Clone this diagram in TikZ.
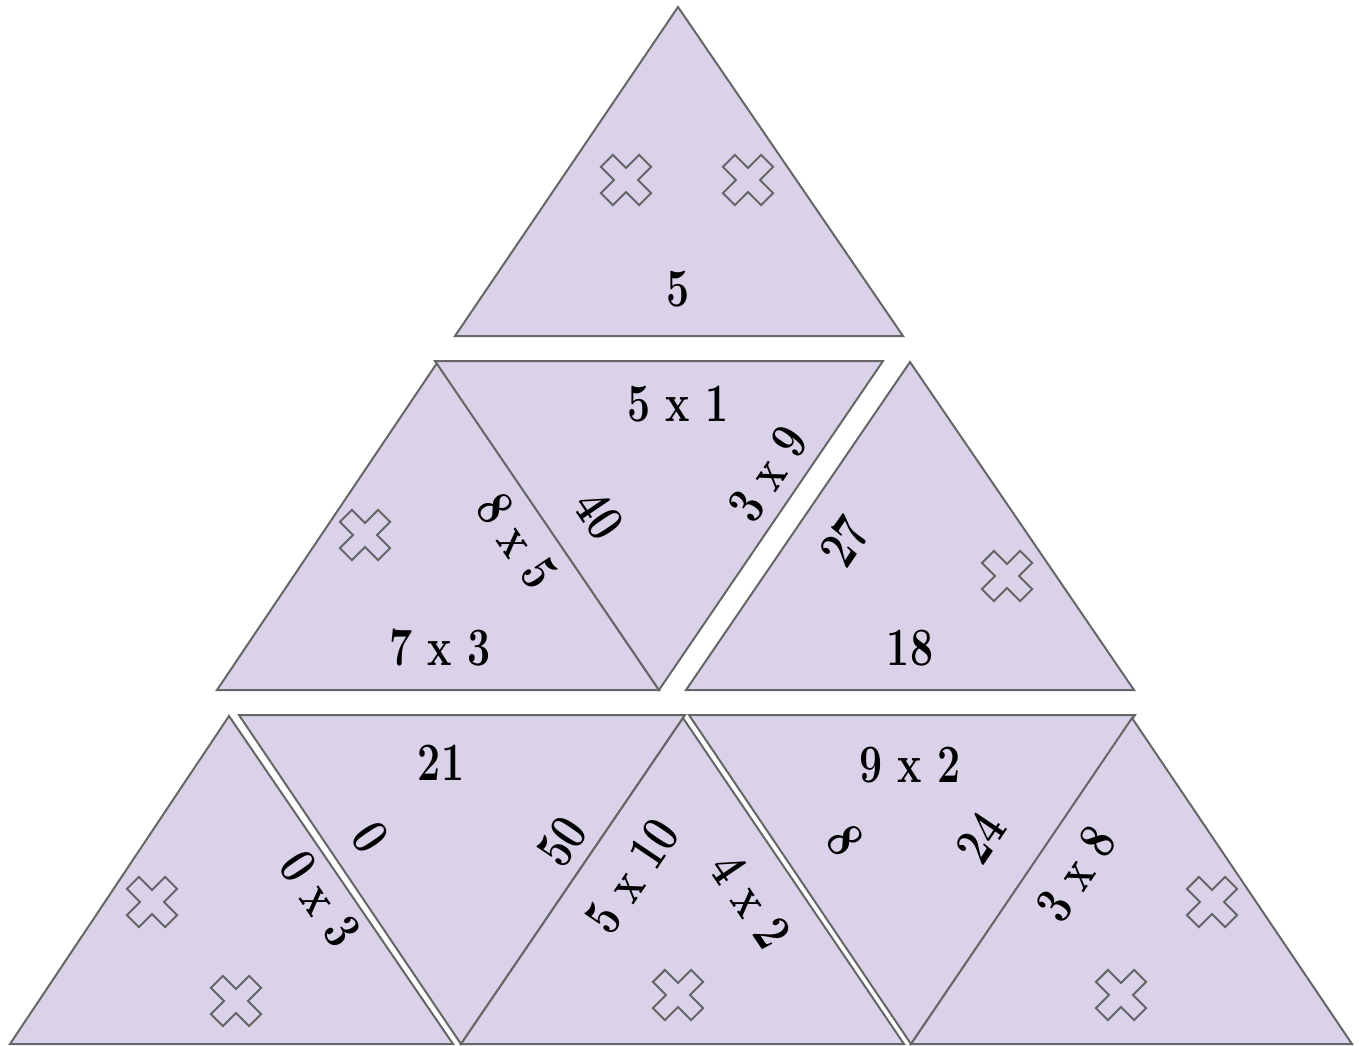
\documentclass[tikz,border=0pt]{standalone}
\usepackage{graphicx}
\definecolor{trifill}{HTML}{D9D2E9}
\definecolor{edgegray}{HTML}{666666}
\newcommand\condtxt[1]{\scalebox{0.76}[1]{#1}}
\tikzset{
  tribox/.style={fill=trifill, draw=edgegray, line width=2pt, line join=miter},
  lbl/.style={font=\fontsize{54}{54}\selectfont\bfseries, inner sep=0pt, text=black},
  crossmark/.pic={
    \draw[draw=edgegray, line width=2pt, rotate=45]
      (-8.5,27) -- (8.5,27) -- (8.5,8.5) -- (27,8.5) -- (27,-8.5) -- (8.5,-8.5)
      -- (8.5,-27) -- (-8.5,-27) -- (-8.5,-8.5) -- (-27,-8.5) -- (-27,8.5)
      -- (-8.5,8.5) -- cycle;
  }
}
\begin{document}
\begin{tikzpicture}[x=1pt,y=-1pt]
\useasboundingbox (0,0) rectangle (1359,1046);
% triangles
\draw[tribox] (678,7) -- (903,336) -- (455,336) -- cycle;       % T1
\draw[tribox] (437,363) -- (659,690) -- (217,690) -- cycle;     % T2
\draw[tribox] (435,361) -- (883,361) -- (659,690) -- cycle;     % T3
\draw[tribox] (910,362) -- (1134,690) -- (686,690) -- cycle;    % T4
\draw[tribox] (229,716) -- (453,1044) -- (10,1044) -- cycle;    % T5
\draw[tribox] (239,715) -- (685,715) -- (461,1044) -- cycle;    % T6
\draw[tribox] (683,718) -- (904,1044) -- (461,1044) -- cycle;   % T7
\draw[tribox] (689,715) -- (1135,715) -- (911,1044) -- cycle;   % T8
\draw[tribox] (1132,718) -- (1352,1044) -- (911,1044) -- cycle; % T9
% crosses
\pic at (626,180) {crossmark};
\pic at (748,180) {crossmark};
\pic at (365,535) {crossmark};
\pic at (1007,576) {crossmark};
\pic at (152,902) {crossmark};
\pic at (236,1001) {crossmark};
\pic at (678,995) {crossmark};
\pic at (1212,902) {crossmark};
\pic at (1121,995) {crossmark};
% labels
\node[lbl] (a1) at (678,289) {\condtxt{5}};
\node[lbl] (b1) at (678,404) {\condtxt{5 x 1}};
\node[lbl, rotate=56] (b2) at (768,474) {\condtxt{3 x 9}};
\node[lbl, rotate=-56] (b3) at (599,515) {\condtxt{40}};
\node[lbl, rotate=-56] (b4) at (517,541) {\condtxt{8 x 5}};
\node[lbl] (b5) at (440,648) {\condtxt{7 x 3}};
\node[lbl, rotate=56] (c1) at (845,541) {\condtxt{27}};
\node[lbl] (c2) at (910,648) {\condtxt{18}};
\node[lbl] (d1) at (441,763) {\condtxt{21}};
\node[lbl, rotate=-56] (d2) at (370,837) {\condtxt{0}};
\node[lbl, rotate=-56] (d3) at (320,899) {\condtxt{0 x 3}};
\node[lbl, rotate=56] (d4) at (562,842) {\condtxt{50}};
\node[lbl, rotate=56] (e1) at (632,876) {\condtxt{5 x 10}};
\node[lbl, rotate=-56] (e2) at (751,901) {\condtxt{4 x 2}};
\node[lbl] (f1) at (910,765) {\condtxt{9 x 2}};
\node[lbl, rotate=-56] (f2) at (845,840) {\condtxt{8}};
\node[lbl, rotate=56] (f3) at (981,838) {\condtxt{24}};
\node[lbl, rotate=56] (g1) at (1076,874) {\condtxt{3 x 8}};
\end{tikzpicture}
\end{document}
